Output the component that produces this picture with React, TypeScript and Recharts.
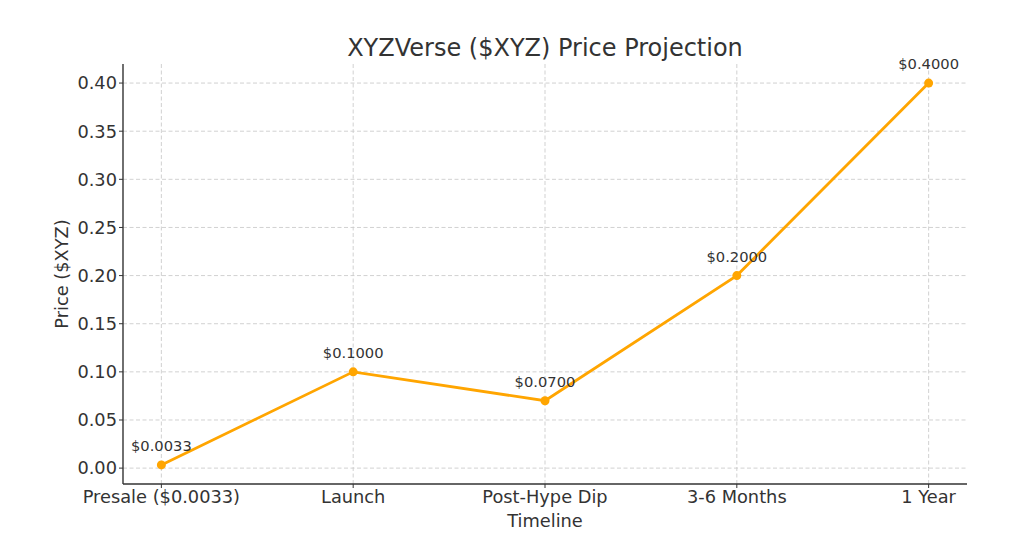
import { LineChart, Line, XAxis, YAxis, CartesianGrid, LabelList } from 'recharts';

const stages = ['Presale ($0.0033)', 'Launch', 'Post-Hype Dip', '3-6 Months', '1 Year'];
const prices = [0.0033, 0.1, 0.07, 0.2, 0.4];
const xTicks = [0, 1, 2, 3, 4];
const yTicks = [0, 0.05, 0.1, 0.15, 0.2, 0.25, 0.3, 0.35, 0.4];

const data = stages.map((name, i) => ({ idx: i, name, price: prices[i] }));

const FONT = '"DejaVu Sans", sans-serif';
const TEXT = '#333333';
const ORANGE = '#FFA500';

const PriceLabel = (props: any) => {
  const { x, y, value } = props;
  return (
    <text x={x} y={y - 14} textAnchor="middle" fontSize={14.7} fill={TEXT} fontFamily={FONT}>
      ${Number(value).toFixed(4)}
    </text>
  );
};

const YLabel = (props: any) => {
  const vb = props.viewBox;
  const cx = 61;
  const cy = vb.y + vb.height / 2;
  return (
    <text
      x={cx}
      y={cy}
      transform={`rotate(-90, ${cx}, ${cy})`}
      textAnchor="middle"
      dominantBaseline="central"
      fontSize={17.8}
      fill={TEXT}
      fontFamily={FONT}
    >
      Price ($XYZ)
    </text>
  );
};

const XLabel = (props: any) => {
  const vb = props.viewBox;
  return (
    <text x={vb.x + vb.width / 2} y={527} textAnchor="middle" fontSize={17.8} fill={TEXT} fontFamily={FONT}>
      Timeline
    </text>
  );
};

export default function App() {
  return (
    <div style={{ position: 'absolute', left: 0, top: 0, width: 1021, height: 544, background: '#fff' }}>
      <LineChart width={1021} height={544} data={data} margin={{ top: 64, right: 54, left: 0, bottom: 0 }}>
        <text x={545} y={56} textAnchor="middle" fontSize={24} fill={TEXT} fontFamily={FONT}>
          XYZVerse ($XYZ) Price Projection
        </text>
        <CartesianGrid
          stroke="#cccccc"
          strokeDasharray="4 2.5"
          strokeWidth={0.9}
          horizontalValues={yTicks}
          verticalValues={xTicks}
        />
        <XAxis
          dataKey="idx"
          type="number"
          domain={[-0.2, 4.2]}
          ticks={xTicks}
          tickFormatter={(v: number) => stages[v]}
          height={60}
          interval={0}
          tickSize={4}
          tickMargin={2}
          axisLine={{ stroke: TEXT, strokeWidth: 1.4 }}
          tickLine={{ stroke: TEXT, strokeWidth: 1 }}
          tick={{ fill: TEXT, fontSize: 17.8, fontFamily: FONT }}
          label={<XLabel />}
        />
        <YAxis
          type="number"
          domain={[-0.0165, 0.4198]}
          ticks={yTicks}
          tickFormatter={(v: number) => v.toFixed(2)}
          width={123}
          interval={0}
          tickSize={4}
          tickMargin={2}
          allowDataOverflow
          axisLine={{ stroke: TEXT, strokeWidth: 1.4 }}
          tickLine={{ stroke: TEXT, strokeWidth: 1 }}
          tick={{ fill: TEXT, fontSize: 17.8, fontFamily: FONT }}
          label={<YLabel />}
        />
        <Line
          type="linear"
          dataKey="price"
          stroke={ORANGE}
          strokeWidth={2.8}
          dot={{ r: 4.5, fill: ORANGE, stroke: 'none' }}
          activeDot={false}
          isAnimationActive={false}
        >
          <LabelList dataKey="price" content={<PriceLabel />} />
        </Line>
      </LineChart>
    </div>
  );
}
